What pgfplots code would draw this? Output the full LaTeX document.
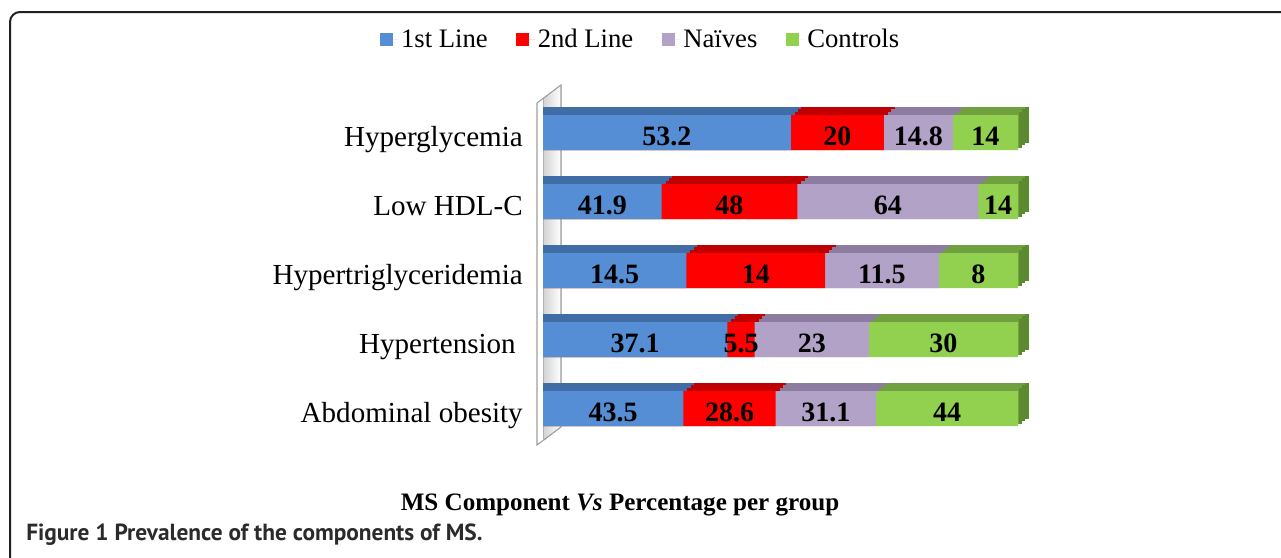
\documentclass[border=0pt]{standalone}
\usepackage{pgfplots}
\pgfplotsset{compat=1.18}
\usepackage{pgfplotstable}
\usepackage{fontspec}
\setmainfont{Liberation Serif}
\newfontfamily\capfam{PT Sans}

\definecolor{c1}{HTML}{558ED5}\definecolor{c1t}{HTML}{416DA6}
\definecolor{c2}{HTML}{FF0000}\definecolor{c2t}{HTML}{C00000}
\definecolor{c3}{HTML}{B3A2C7}\definecolor{c3t}{HTML}{8C7DA0}
\definecolor{c4}{HTML}{92D050}\definecolor{c4t}{HTML}{70A040}\definecolor{c4r}{HTML}{5C8A2E}
\definecolor{framec}{HTML}{231F20}
\definecolor{capc}{HTML}{2B2B2B}

\newcommand{\catfont}{\fontsize{21.8}{26}\selectfont}
\newcommand{\legfont}{\fontsize{20}{24}\selectfont}
\newcommand{\labfont}{\fontsize{21}{25}\selectfont\bfseries}
\newcommand{\titfont}{\fontsize{18.8}{22}\selectfont\bfseries}

% columns: 1st Line, 2nd Line, Naives, Controls
\pgfplotstableread{
a b c d
53.2 20 14.8 14
41.9 48 64 14
14.5 14 11.5 8
37.1 5.5 23 30
43.5 28.6 31.1 44
}\msdata

\newcommand{\tot}{(\thisrow{a}+\thisrow{b}+\thisrow{c}+\thisrow{d})}
\pgfplotsset{sbar/.style={xbar, bar width=26.25pt, bar shift=0pt, draw=none, forget plot}}
% #1 dx of this layer, #2 dy of this layer, #3 dx of the previous (nearer) layer
\newcommand{\shadowlayer}[3]{%
\addplot[sbar, fill=c4r, draw=c4r, line width=0.5pt] table[x expr={100*\tot/\tot+#1}, y expr={\coordindex-#2}]{\msdata};
\addplot[sbar, fill=c4t, draw=c4t, line width=0.5pt] table[x expr={100*\tot/\tot+#3}, y expr={\coordindex-#2}]{\msdata};
\addplot[sbar, fill=c3t, draw=c3t, line width=0.5pt] table[x expr={100*(\thisrow{a}+\thisrow{b}+\thisrow{c})/\tot+#1}, y expr={\coordindex-#2}]{\msdata};
\addplot[sbar, fill=c2t, draw=c2t, line width=0.5pt] table[x expr={100*(\thisrow{a}+\thisrow{b})/\tot+#1}, y expr={\coordindex-#2}]{\msdata};
\addplot[sbar, fill=c1t, draw=c1t, line width=0.5pt] table[x expr={100*\thisrow{a}/\tot+#1}, y expr={\coordindex-#2}]{\msdata};
}
\pgfplotsset{lab/.style={only marks, mark=*, mark size=0pt, mark options={draw=none,fill=none}, forget plot,
  point meta=explicit symbolic, nodes near coords,
  every node near coord/.append style={anchor=base, yshift=-9.4pt, font=\labfont, text=black, inner sep=0pt}}}

\begin{document}
\begin{tikzpicture}
\begin{scope}[x=0.75pt, y=-0.75pt]
\useasboundingbox (0,0) rectangle (1281,557);
\fill[white] (0,0) rectangle (1281,557);
% frame
\draw[framec, line width=1.5pt, rounded corners=7.5pt] (10,560) -- (10,12) -- (1285,12);
% left wall
\fill[white] (537,445) -- (537,103) -- (561,85) -- (561,427) -- cycle;
\fill[left color=gray!35, right color=white] (543,441) -- (543,99) -- (561,85) -- (561,427) -- cycle;
\draw[gray!75, line width=0.8pt] (537,445) -- (537,103) -- (561,85) -- (561,427) -- cycle;
\draw[gray!60, line width=0.6pt] (543,441) -- (543,99);
% title and caption
\node[anchor=base, font=\titfont, inner sep=0pt] at (620,510) {MS Component \textit{Vs} Percentage per group};
\node[anchor=base west, inner sep=0pt, text=capc] at (26,540) {\capfam\bfseries\fontsize{17.5}{20}\selectfont Figure 1 Prevalence of the components of MS.};
\end{scope}

\begin{axis}[
  at={(585.375pt,-202.875pt)}, anchor=center,
  scale only axis, width=356.25pt, height=258.75pt,
  xmin=0, xmax=100, ymin=-0.5, ymax=4.5, y dir=reverse,
  clip=false,
  axis line style={draw=none},
  xtick=\empty,
  ytick={0,1,2,3,4},
  yticklabels={Hyperglycemia, Low HDL-C, Hypertriglyceridemia, {Hypertension\kern5.25pt}, Abdominal obesity},
  major tick length=0pt,
  yticklabel style={anchor=base east, inner sep=0pt, xshift=-15pt, yshift=-10.8pt, font=\catfont},
  legend image code/.code={\fill[#1] (0pt,-4.875pt) rectangle (9.75pt,4.875pt); \path (0pt,0pt) -- (14pt,0pt);},
  legend columns=4,
  legend style={at={(axis cs:20.6,-1.348)}, anchor=center, draw=none, fill=none, font=\legfont,
    inner sep=0pt, /tikz/every even column/.append style={column sep=19.5pt}},
]
\addlegendimage{fill=c1, draw=none}\addlegendentry{1st Line}
\addlegendimage{fill=c2, draw=none}\addlegendentry{2nd Line}
\addlegendimage{fill=c3, draw=none}\addlegendentry{Naïves}
\addlegendimage{fill=c4, draw=none}\addlegendentry{Controls}

\shadowlayer{2.105}{0.116}{1.403}
\shadowlayer{1.403}{0.0773}{0.702}
\shadowlayer{0.702}{0.0387}{0}

% front faces
\addplot[sbar, fill=c4] table[x expr={100*\tot/\tot}, y expr=\coordindex]{\msdata};
\addplot[sbar, fill=c3] table[x expr={100*(\thisrow{a}+\thisrow{b}+\thisrow{c})/\tot}, y expr=\coordindex]{\msdata};
\addplot[sbar, fill=c2] table[x expr={100*(\thisrow{a}+\thisrow{b})/\tot}, y expr=\coordindex]{\msdata};
\addplot[sbar, fill=c1] table[x expr={100*\thisrow{a}/\tot}, y expr=\coordindex]{\msdata};

% value labels
\addplot[lab] table[x expr={100*(\thisrow{a}/2)/\tot}, y expr=\coordindex, meta=a]{\msdata};
\addplot[lab] table[x expr={100*(\thisrow{a}+\thisrow{b}/2)/\tot}, y expr=\coordindex, meta=b]{\msdata};
\addplot[lab] table[x expr={100*(\thisrow{a}+\thisrow{b}+\thisrow{c}/2)/\tot}, y expr=\coordindex, meta=c]{\msdata};
\addplot[lab] table[x expr={100*(\thisrow{a}+\thisrow{b}+\thisrow{c}+\thisrow{d}/2)/\tot}, y expr=\coordindex, meta=d]{\msdata};
\end{axis}
\end{tikzpicture}
\end{document}
